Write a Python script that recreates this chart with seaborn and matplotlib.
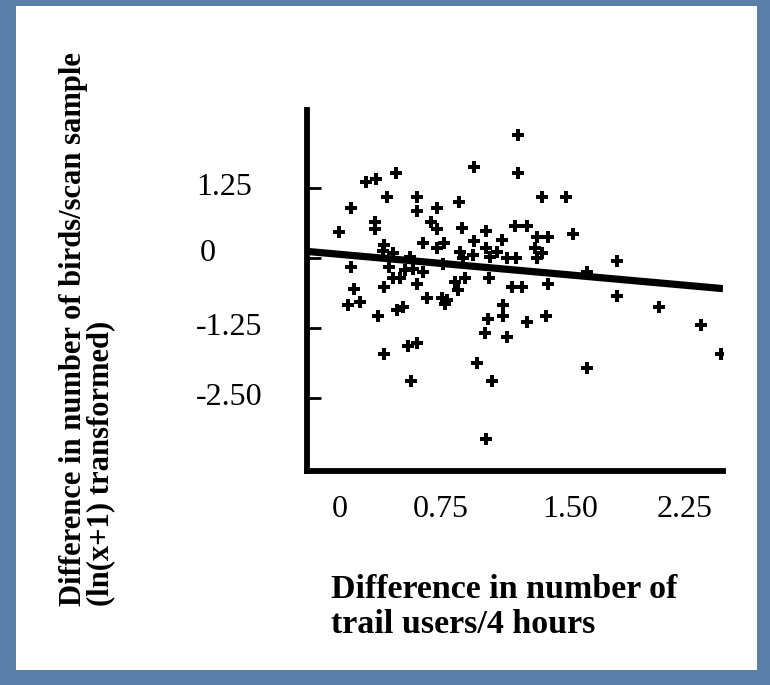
import matplotlib
matplotlib.use("Agg")
import matplotlib.pyplot as plt
import matplotlib.transforms as mtransforms
from matplotlib.patches import Rectangle
import numpy as np
import pandas as pd
import seaborn as sns

# ---- data ----
trail_users_diff = [
    1.161, 0.874, 1.161, 0.365, 0.170, 0.235, 0.307, 0.502, 0.502, 0.072,
    0.633, 0.776, 1.318, 1.474, 0.228, 0.228, -0.007, 0.594, 0.633, 0.796,
    1.142, 1.220, 0.952, 1.520, 0.541, 0.678, 0.874, 1.057, 1.285, 1.357,
    0.287, 0.280, 0.633, 0.952, 1.272, 1.318, 0.346, 0.457, 0.783, 0.868,
    0.802, 1.024, 0.978, 1.089, 1.148, 1.285, 0.072, 0.320, 0.424, 0.476,
    0.541, 0.346, 0.391, 0.091, 0.287, 0.502, 0.568, 0.665, 0.052, 0.130,
    0.372, 0.411, 0.248, 0.750, 0.815, 0.972, 1.122, 1.187, 1.357, 0.770,
    0.698, 0.685, 1.063, 1.063, 0.965, 1.220, 1.344, 0.946, 1.089, 0.287,
    0.444, 0.502, 0.463, 0.894, 0.992, 0.952, 1.807, 1.611, 1.807, 2.081,
    2.355, 2.485, 1.611, 0.672,
]
birds_diff = [
    2.191, 1.620, 1.513, 1.513, 1.352, 1.405, 1.084, 1.084, 0.834, 0.888,
    0.888, 0.995, 1.084, 1.084, 0.638, 0.513, 0.459, 0.638, 0.513, 0.530,
    0.566, 0.566, 0.477, 0.423, 0.263, 0.263, 0.298, 0.316, 0.370, 0.370,
    0.227, 0.120, 0.173, 0.173, 0.173, 0.084, 0.084, 0.013, 0.102, 0.048,
    -0.005, 0.102, 0.013, -0.005, -0.005, -0.005, -0.166, -0.166, -0.220, -0.202,
    -0.255, -0.363, -0.363, -0.559, -0.523, -0.470, -0.720, -0.720, -0.845, -0.791,
    -0.934, -0.880, -1.041, -0.434, -0.363, -0.363, -0.523, -0.523, -0.470, -0.577,
    -0.755, -0.827, -0.845, -1.041, -1.095, -1.148, -1.041, -1.345, -1.416, -1.720,
    -1.577, -1.523, -2.202, -1.880, -2.202, -3.238, -0.059, -0.255, -0.684, -0.880,
    -1.202, -1.720, -1.970, -0.113,
]
fit_intercept = 0.06
fit_slope = -0.245

x_ticks = [0, 0.75, 1.50, 2.25]
x_tick_labels = ["0", "0.75", "1.50", "2.25"]
y_ticks = [1.25, 0, -1.25, -2.50]
y_tick_labels = ["1.25", "0", "-1.25", "-2.50"]

x_title = "Difference in number of\ntrail users/4 hours"
y_title = "Difference in number of birds/scan sample\n(ln(x+1) transformed)"

df = pd.DataFrame({"x": trail_users_diff, "y": birds_diff})

# ---- figure ----
sns.set_style("white")
plt.rcParams["font.family"] = ["Liberation Serif", "DejaVu Serif"]
plt.rcParams["text.color"] = "black"
plt.rcParams["xtick.color"] = "black"
plt.rcParams["ytick.color"] = "black"

W, H = 770, 685
fig = plt.figure(figsize=(W / 100, H / 100), dpi=100, facecolor="#5a7fa8")

# white slide panel
fig.patches.append(Rectangle((16 / W, 1 - 670 / H), (757 - 16) / W, (670 - 6) / H,
                             transform=fig.transFigure, facecolor="white",
                             edgecolor="none", zorder=-10))

ax_l, ax_r, ax_t, ax_b = 307, 723, 110, 471
ax = fig.add_axes([ax_l / W, 1 - ax_b / H, (ax_r - ax_l) / W, (ax_b - ax_t) / H])
ax.set_zorder(5)
ax.set_facecolor("none")

xlim = (-0.215, 2.498)
ylim = (-3.809, 2.638)

sns.scatterplot(data=df, x="x", y="y", ax=ax, marker="+", color="black",
                s=70, linewidth=2.9, legend=False, zorder=3)

line_x = np.array(xlim)
line_df = pd.DataFrame({"x": line_x, "y": fit_intercept + fit_slope * line_x})
sns.lineplot(data=line_df, x="x", y="y", ax=ax, color="black", linewidth=5.2,
             zorder=4, solid_capstyle="butt")

ax.set_xlim(*xlim)
ax.set_ylim(*ylim)

for s in ["top", "right"]:
    ax.spines[s].set_visible(False)
for s in ["left", "bottom"]:
    ax.spines[s].set_visible(True)
    ax.spines[s].set_linewidth(4.2)
    ax.spines[s].set_color("black")
    ax.spines[s].set_capstyle("projecting")

ax.set_xticks(x_ticks)
ax.set_xticklabels(x_tick_labels)
ax.set_yticks(y_ticks)
ax.set_yticklabels(y_tick_labels)
ax.tick_params(axis="x", length=0, pad=17, labelsize=23, labelcolor="black")
ax.tick_params(axis="y", direction="in", length=10, width=2.0, pad=80, left=True,
               labelsize=23, color="black", labelcolor="black")
for lab in ax.get_yticklabels():
    lab.set_horizontalalignment("left")
    lab.set_verticalalignment("center")
# nudge labels to where they sit in the reference
xl = ax.get_xticklabels()
xl[1].set_transform(xl[1].get_transform() +
                    mtransforms.ScaledTranslation(-14 / 100, 0, fig.dpi_scale_trans))
yl = ax.get_yticklabels()
yl[1].set_transform(yl[1].get_transform() +
                    mtransforms.ScaledTranslation(4 / 100, 4 / 100, fig.dpi_scale_trans))

ax.set_xlabel("")
ax.set_ylabel("")
ax.grid(False)

fig.text(331 / W, 1 - 574 / H, x_title, ha="left", va="top", fontsize=24.5,
         fontweight="bold", multialignment="left", linespacing=1.15, color="black")
fig.text(87 / W, 1 - 606 / H, y_title, rotation=90, ha="center", va="bottom",
         fontsize=22, fontweight="bold", multialignment="left", linespacing=0.9,
         color="black")

fig.savefig("out.png", dpi=100, facecolor=fig.get_facecolor())
